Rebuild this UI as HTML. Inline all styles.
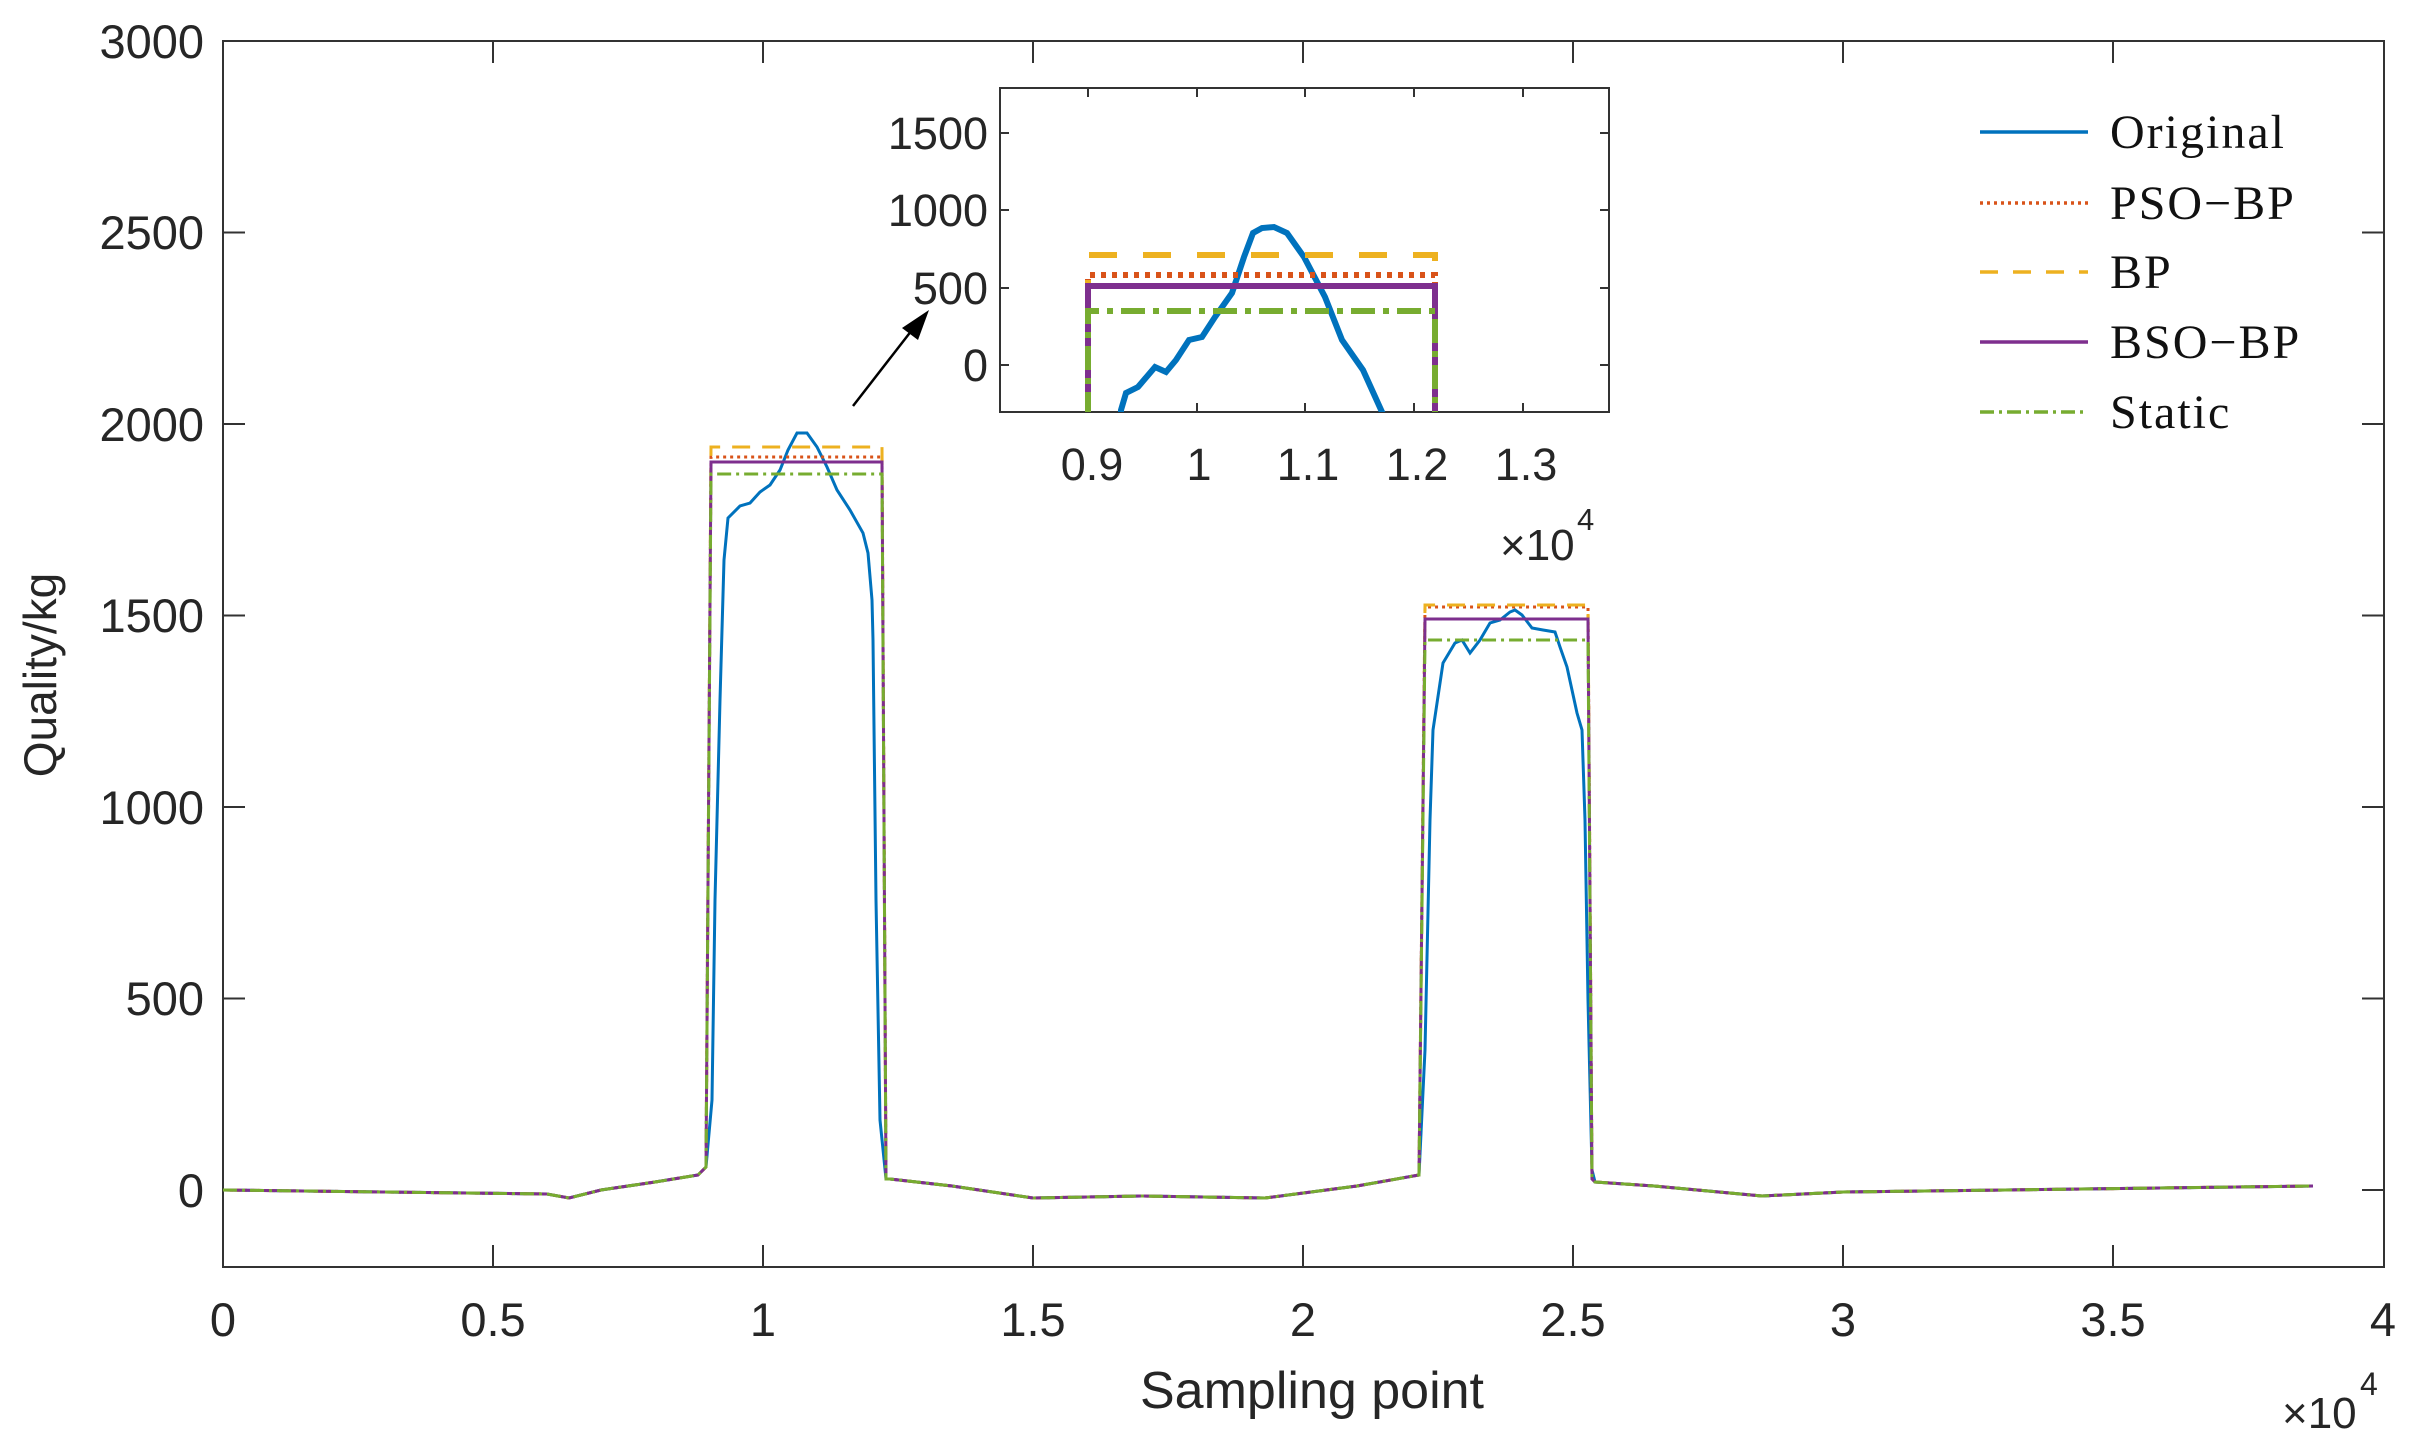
<!DOCTYPE html>
<html><head><meta charset="utf-8"><style>
html,body{margin:0;padding:0;background:#fff;}
svg{display:block;}
text{font-family:"Liberation Sans",sans-serif;fill:#262626;}
.s{font-family:"Liberation Serif",serif;fill:#111;}
</style></head><body>
<svg width="2422" height="1455" viewBox="0 0 2422 1455" xmlns="http://www.w3.org/2000/svg">
<rect width="2422" height="1455" fill="#fff"/>
<defs><clipPath id="cm"><rect x="223" y="41" width="2161" height="1226"/></clipPath>
<clipPath id="ci"><rect x="1000" y="88" width="609" height="324"/></clipPath></defs>

<rect x="223" y="41" width="2161" height="1226" fill="none" stroke="#333" stroke-width="2"/>
<g stroke="#333" stroke-width="2">
<path d="M223 1267v-22M493 1267v-22M763 1267v-22M1033 1267v-22M1303 1267v-22M1573 1267v-22M1843 1267v-22M2113 1267v-22
M223 41v22M493 41v22M763 41v22M1033 41v22M1303 41v22M1573 41v22M1843 41v22M2113 41v22"/>
<path d="M223 1190h22M223 998.5h22M223 807h22M223 615.5h22M223 424h22M223 232.5h22
M2384 1190h-22M2384 998.5h-22M2384 807h-22M2384 615.5h-22M2384 424h-22M2384 232.5h-22"/>
</g>
<g font-size="47" text-anchor="end">
<text x="204" y="1207">0</text><text x="204" y="1015">500</text><text x="204" y="824">1000</text>
<text x="204" y="632">1500</text><text x="204" y="441">2000</text><text x="204" y="249">2500</text><text x="204" y="58">3000</text>
</g>
<g font-size="47" text-anchor="middle">
<text x="223" y="1336">0</text><text x="493" y="1336">0.5</text><text x="763" y="1336">1</text><text x="1033" y="1336">1.5</text>
<text x="1303" y="1336">2</text><text x="1573" y="1336">2.5</text><text x="1843" y="1336">3</text><text x="2113" y="1336">3.5</text><text x="2383" y="1336">4</text>
<text x="1312" y="1408" font-size="52">Sampling point</text>
</g>
<text x="2282" y="1428" font-size="44">×10</text><text x="2360" y="1395" font-size="32">4</text>
<text transform="translate(56,675) rotate(-90)" font-size="46" text-anchor="middle">Quality/kg</text>

<g clip-path="url(#cm)" fill="none" stroke-width="3">
<polyline stroke="#0072BD" points="223,1190 385,1192 547,1194 569,1198 601,1190 655,1182 698,1175 706,1167 712,1100 715,900 720,700 724,560 728,518 740,506 750,503 760,492 770,485 780,470 788,450 797,433 807,433 817,447 827,467 837,490 850,510 863,533 868,553 872,600 873,640 876,900 880,1120 886,1179 890,1179 952,1186 1033,1198 1141,1196 1265,1198 1357,1186 1419,1175 1425,1050 1430,820 1433,730 1443,663 1455,643 1462,640 1470,653 1480,640 1490,623 1500,620 1510,612 1515,610 1522,615 1532,628 1543,630 1555,632 1560,647 1567,667 1577,713 1582,730 1585,820 1588,1000 1592,1170 1595,1182 1654,1186 1762,1196 1843,1192 2005,1190 2313,1186"/>
<polyline stroke="#D95319" stroke-dasharray="3,4" points="223,1190 385,1192 547,1194 569,1198 601,1190 655,1182 698,1175 706,1167 711,457 882,457 886,1179 890,1179 952,1186 1033,1198 1141,1196 1265,1198 1357,1186 1419,1175 1425,607 1588,607 1592,1179 1595,1182 1654,1186 1762,1196 1843,1192 2005,1190 2313,1186"/>
<polyline stroke="#EDB120" stroke-dasharray="18,12" points="223,1190 385,1192 547,1194 569,1198 601,1190 655,1182 698,1175 706,1167 711,447 882,447 886,1179 890,1179 952,1186 1033,1198 1141,1196 1265,1198 1357,1186 1419,1175 1425,605 1588,605 1592,1179 1595,1182 1654,1186 1762,1196 1843,1192 2005,1190 2313,1186"/>
<polyline stroke="#7E2F8E" points="223,1190 385,1192 547,1194 569,1198 601,1190 655,1182 698,1175 706,1167 711,462 882,462 886,1179 890,1179 952,1186 1033,1198 1141,1196 1265,1198 1357,1186 1419,1175 1425,619 1588,619 1592,1179 1595,1182 1654,1186 1762,1196 1843,1192 2005,1190 2313,1186"/>
<polyline stroke="#77AC30" stroke-dasharray="14,5,3,5" points="223,1190 385,1192 547,1194 569,1198 601,1190 655,1182 698,1175 706,1167 711,474 882,474 886,1179 890,1179 952,1186 1033,1198 1141,1196 1265,1198 1357,1186 1419,1175 1425,640 1588,640 1592,1179 1595,1182 1654,1186 1762,1196 1843,1192 2005,1190 2313,1186"/>
</g>

<line x1="853" y1="406" x2="912" y2="330" stroke="#000" stroke-width="2.5"/>
<polygon points="929,310 902,328 918,340" fill="#000"/>

<rect x="1000" y="88" width="609" height="324" fill="#fff" stroke="#333" stroke-width="2"/>
<g stroke="#333" stroke-width="2">
<path d="M1088 412v-9M1197 412v-9M1305 412v-9M1414 412v-9M1523 412v-9M1088 88v9M1197 88v9M1305 88v9M1414 88v9M1523 88v9
M1000 365h9M1000 288h9M1000 210h9M1000 133h9M1609 365h-9M1609 288h-9M1609 210h-9M1609 133h-9"/>
</g>
<g font-size="45" text-anchor="end">
<text x="988" y="381">0</text><text x="988" y="304">500</text><text x="988" y="226">1000</text><text x="988" y="149">1500</text>
</g>
<g font-size="45" text-anchor="middle">
<text x="1092" y="480">0.9</text><text x="1199" y="480">1</text><text x="1308" y="480">1.1</text><text x="1417" y="480">1.2</text><text x="1526" y="480">1.3</text>
</g>
<text x="1500" y="560" font-size="44">×10</text><text x="1577" y="530" font-size="31">4</text>
<g clip-path="url(#ci)" fill="none" stroke-width="6">
<polyline stroke="#0072BD" points="1121,414 1121,410 1126,393 1138,387 1155,367 1166,372 1176,360 1189,340 1202,337 1215,317 1232,293 1244,257 1253,233 1262,228 1274,227 1287,233 1304,257 1325,297 1342,340 1363,370 1382,412 1384,416"/>
<polyline stroke="#D95319" stroke-dasharray="5,6" points="1088,416 1088,275 1435,275 1435,416"/>
<polyline stroke="#EDB120" stroke-dasharray="28,26" points="1088,416 1088,255 1435,255 1435,416"/>
<polyline stroke="#7E2F8E" points="1088,416 1088,286 1435,286 1435,416"/>
<polyline stroke="#77AC30" stroke-dasharray="24,8,6,8" points="1088,416 1088,311 1435,311 1435,416"/>
</g>

<g stroke-width="3.5">
<line x1="1980" y1="132" x2="2088" y2="132" stroke="#0072BD"/>
<line x1="1980" y1="203" x2="2088" y2="203" stroke="#D95319" stroke-dasharray="3,4"/>
<line x1="1980" y1="272" x2="2088" y2="272" stroke="#EDB120" stroke-dasharray="18,15"/>
<line x1="1980" y1="342" x2="2088" y2="342" stroke="#7E2F8E"/>
<line x1="1980" y1="412" x2="2088" y2="412" stroke="#77AC30" stroke-dasharray="14,5,3,5"/>
</g>
<g font-size="48" letter-spacing="2">
<text class="s" x="2110" y="148">Original</text>
<text class="s" x="2110" y="219">PSO−BP</text>
<text class="s" x="2110" y="288">BP</text>
<text class="s" x="2110" y="358">BSO−BP</text>
<text class="s" x="2110" y="428">Static</text>
</g>
</svg>
</body></html>
